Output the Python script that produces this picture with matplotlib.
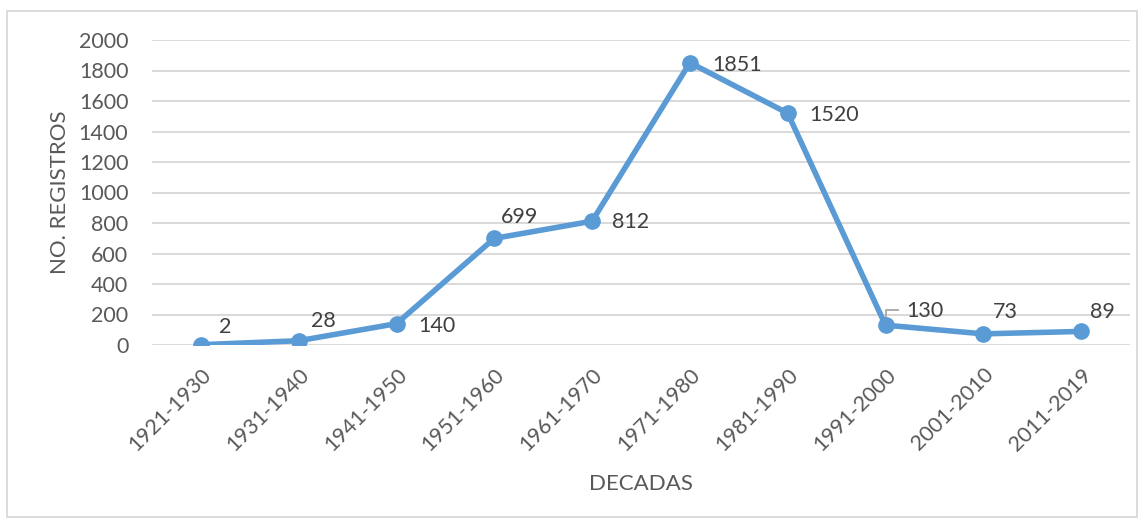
import matplotlib
matplotlib.use("Agg")
import matplotlib.pyplot as plt
from matplotlib.patches import Rectangle

decades = ["1921-1930", "1931-1940", "1941-1950", "1951-1960", "1961-1970",
           "1971-1980", "1981-1990", "1991-2000", "2001-2010", "2011-2019"]
registros = [2, 28, 140, 699, 812, 1851, 1520, 130, 73, 89]
yticks = [0, 200, 400, 600, 800, 1000, 1200, 1400, 1600, 1800, 2000]

# label offsets in pixels (x to left edge, y to vertical center)
label_offsets = [(18, 18), (12, 20), (22, -2), (7, 21), (20, -1),
                 (22, -2), (22, -2), (21, 14), (10, 22), (9, 19)]

plt.rcParams['font.family'] = ['Lato', 'DejaVu Sans']
txt = '#595959'
blue = '#5B9BD5'
grid = '#D9D9D9'
fs = 15.5

fig = plt.figure(figsize=(11.47, 5.2), dpi=100)
fig.patches.append(Rectangle((7/1147, 3/520), 1130/1147, 506/520, transform=fig.transFigure,
                             fill=False, edgecolor=grid, linewidth=1.3))
ax = fig.add_axes([152/1147, 175/520, 978/1147, 305/520])

x = list(range(len(decades)))
ax.plot(x, registros, color=blue, linewidth=4.0, marker='o', markersize=11, zorder=3,
        solid_joinstyle='round')

ax.set_xlim(-0.5, len(decades) - 0.5)
ax.set_ylim(0, 2000)
ax.set_yticks(yticks)
ax.set_yticklabels([str(v) for v in yticks])
ax.set_xticks(x)
ax.set_xticklabels(decades, rotation=45, ha='right', va='top', rotation_mode='anchor')
for s in ax.spines.values():
    s.set_visible(False)
ax.grid(axis='y', color=grid, linewidth=1.4, zorder=0)
ax.set_axisbelow(True)
ax.tick_params(axis='both', length=0, labelsize=fs, colors=txt)
ax.tick_params(axis='y', pad=17)
ax.tick_params(axis='x', pad=14)

for xi, v, (dx, dy) in zip(x, registros, label_offsets):
    ax.annotate(str(v), (xi, v), xytext=(dx, dy), textcoords='offset pixels',
                ha='left', va='center', fontsize=fs, color='#404040', zorder=4)

# leader line for the 1991-2000 label (pixel offsets from the point)
i = 7
pts = [(0, 5), (0, 15), (12, 15)]
px, py = ax.transData.transform((i, registros[i]))
inv = ax.transData.inverted()
p = [inv.transform((px + ddx, py + ddy)) for ddx, ddy in pts]
ax.plot([q[0] for q in p], [q[1] for q in p], color='#A6A6A6', linewidth=1.3, zorder=2,
        clip_on=False)

ax.set_ylabel('NO. REGISTROS', fontsize=16, color=txt, labelpad=6)
ax.set_xlabel('DECADAS', fontsize=16, color=txt, labelpad=14)

fig.savefig('out.png', dpi=100)
